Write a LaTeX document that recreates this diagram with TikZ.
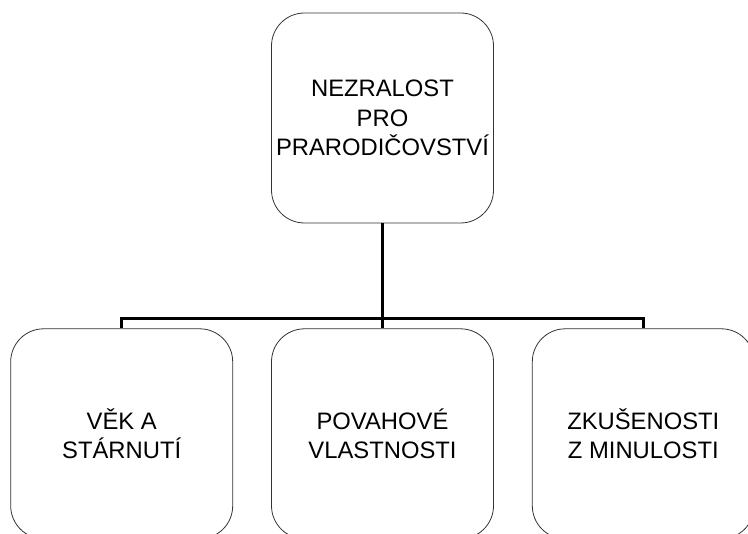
\documentclass[tikz,border=0pt]{standalone}
\usepackage{fontspec}
\setmainfont{Liberation Sans}
\usepackage{tikz}
\usetikzlibrary{positioning}

\begin{document}
\begin{tikzpicture}[
    node distance=38pt,
    factor/.style={rectangle, draw=black!80, line width=0.8pt, rounded corners=33pt, minimum width=222pt, minimum height=210pt, inner sep=0pt, align=center, font=\fontsize{23.8}{29.5}\selectfont},
    link/.style={line width=2.7pt, black}
]
\useasboundingbox (0,0) rectangle (748pt,-534pt);

\node (root) [factor] at (382.5pt,-118pt) {NEZRALOST\\PRO\\PRARODIČOVSTVÍ};
\node (vlast) [factor, below=105pt of root] {POVAHOVÉ\\VLASTNOSTI};
\node (vek) [factor, left=of vlast] {VĚK A\\STÁRNUTÍ};
\node (zkus) [factor, right=of vlast] {ZKUŠENOSTI\\Z MINULOSTI};

\draw[link] (root.south) -- ++(0,-95pt) coordinate (split);
\draw[link] (split) -| (vek.north);
\draw[link] (split) -| (zkus.north);
\draw[link] (split) -- (vlast.north);

\end{tikzpicture}
\end{document}
